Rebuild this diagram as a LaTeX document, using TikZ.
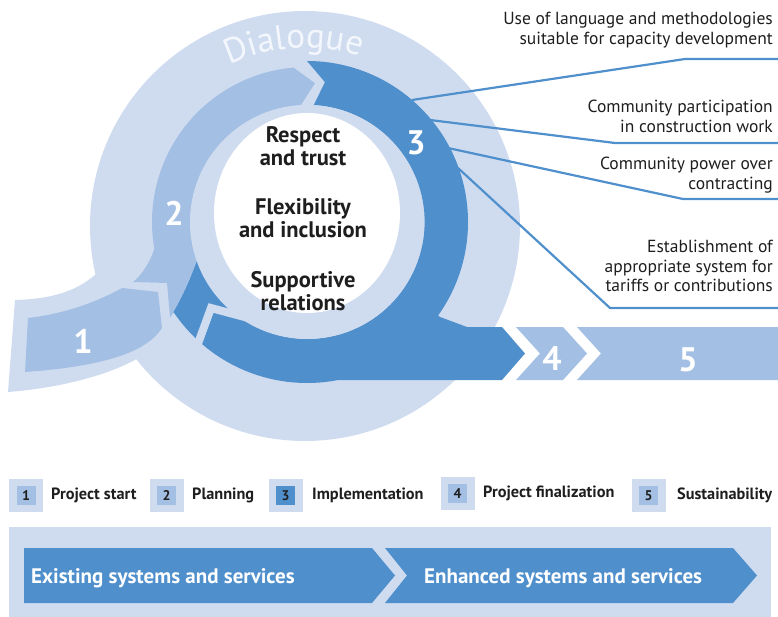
\documentclass[tikz,border=0pt]{standalone}
\usepackage{fontspec}
\setmainfont{PT Sans}
\usetikzlibrary{calc,decorations.text}
\definecolor{paleblue}{HTML}{CFDCF0}
\definecolor{midblue}{HTML}{A3BFE3}
\definecolor{deepblue}{HTML}{4F8FCC}
\definecolor{mist}{HTML}{F3F7FC}
\definecolor{ink}{HTML}{1E1E1E}

\begin{document}
\begin{tikzpicture}[x=1pt,y=1pt,
  digit/.style={text=white,font=\fontsize{34}{34}\selectfont\bfseries},
  core/.style={align=center,text=ink,font=\fontsize{22.5}{23}\selectfont\bfseries},
  note/.style={align=right,anchor=north east,text=ink,font=\fontsize{17.5}{19.5}\selectfont},
  callout/.style={deepblue,line width=2.2pt},
  keybox/.style={fill=paleblue,minimum width=34pt,minimum height=33pt},
  keychip/.style={minimum size=19pt,text=ink,font=\fontsize{14}{14}\selectfont\bfseries},
  keytext/.style={anchor=base west,text=ink,font=\fontsize{16.3}{16.3}\selectfont\bfseries},
  flowtext/.style={anchor=base west,text=white,font=\fontsize{21}{21}\selectfont\bfseries}]
\tikzstyle{every node}+=[inner sep=0pt]
\useasboundingbox (0,0) rectangle (778,-617);
\coordinate (C) at (307,-222);
\coordinate (D) at (305,-226);
\fill[paleblue] (D) circle (215);
\fill[paleblue] (15,-300) .. controls (50,-299) and (80,-292) .. (102,-268) -- (140,-357) .. controls (110,-375) and (60,-388) .. (8,-392) -- cycle;
\fill[deepblue] (C) ++(90:161) arc[start angle=90,end angle=-146,radius=161] -- (170,-317) .. controls (178,-305) and (188,-285) .. (197,-260) arc[start angle=-161,end angle=87,radius=117] -- ($(C)+(82.7:141)$) -- cycle;
\fill[deepblue] (320,-370) -- (338,-380) -- (502,-380) -- (525,-353.5) -- (502,-327) -- (467,-327) -- (440,-317) -- (420,-300) -- cycle;
\draw[paleblue,line width=8pt,miter limit=10] (192,-360) -- (211,-308) -- (252,-319);
\fill[midblue] (C) ++(95:155) arc[start angle=95,end angle=190,radius=155] .. controls (150,-262) and (142,-275) .. (133,-282) -- (167,-283) -- (170,-317) .. controls (178,-305) and (188,-285) .. (197,-260) arc[start angle=199,end angle=93.3,radius=117] -- ($(C)+(86.7:139)$) -- cycle;
\fill[midblue] (28,-318) .. controls (70,-313) and (100,-300) .. (122,-288) -- (158,-292) -- (162,-328) .. controls (148,-350) and (110,-366) .. (25,-372) -- cycle;
\fill[paleblue] (C) circle (117);
\fill[white] (307,-213) ellipse [x radius=93,y radius=100];
\fill[midblue] (516,-327) -- (563,-327) -- (587,-353.5) -- (563,-380) -- (516,-380) -- (540,-353.5) -- cycle;
\fill[midblue] (577,-327) -- (778,-327) -- (778,-380) -- (577,-380) -- (601,-353.5) -- cycle;
\path[decorate,decoration={text along path,text align=center,text color=mist,
  text={|\fontsize{35}{35}\selectfont|Dialogue}}] (D) ++(128.5:178) arc[start angle=128.5,end angle=58.5,radius=178];
\node[digit] (n1) at (83,-341) {1};
\node[digit] (n2) at (174,-213) {2};
\node[digit] (n3) at (416,-143) {3};
\node[digit] (n4) at (552,-359) {4};
\node[digit] (n5) at (688,-360) {5};
\node[core] (respect) at (303,-146) {Respect\\and trust};
\node[core] (flex) at (303,-218) {Flexibility\\and inclusion};
\node[core] (support) at (303,-291) {Supportive\\relations};
\node[note] (lang) at (773,-12) {Use of language and methodologies\\suitable for capacity development};
\node[note] (part) at (773,-100) {Community participation\\in construction work};
\node[note] (power) at (773,-157) {Community power over\\contracting};
\node[note] (tariff) at (773,-240) {Establishment of\\appropriate system for\\tariffs or contributions};
\coordinate (a0) at (412,-100); \coordinate (a1) at (685,-59); \coordinate (a2) at (778,-59);
\coordinate (b0) at (430,-120); \coordinate (b1) at (615,-143); \coordinate (b2) at (778,-143);
\coordinate (c0) at (448,-148); \coordinate (c1) at (683,-199); \coordinate (c2) at (778,-199);
\coordinate (d0) at (458,-168); \coordinate (d1) at (610,-308); \coordinate (d2) at (778,-308);
\draw[callout] (a0) -- (a1) -- (a2);
\draw[callout] (b0) -- (b1) -- (b2);
\draw[callout] (c0) -- (c1) -- (c2);
\draw[callout] (d0) -- (d1) -- (d2);
\node[keybox] (k1) at (26,-495.5) {};
\node[keychip,fill=midblue] (q1) at (k1) {1};
\node[keytext] (t1) at (51,-499) {Project start};
\node[keybox] (k2) at (166.5,-495.5) {};
\node[keychip,fill=midblue] (q2) at (k2) {2};
\node[keytext] (t2) at (192,-499) {Planning};
\node[keybox] (k3) at (285.5,-495.5) {};
\node[keychip,fill=deepblue] (q3) at (k3) {3};
\node[keytext] (t3) at (312,-499) {Implementation};
\node[keybox] (k4) at (457.5,-493.5) {};
\node[keychip,fill=midblue] (q4) at (k4) {4};
\node[keytext] (t4) at (483,-497) {Project finalization};
\node[keybox] (k5) at (648.5,-495.5) {};
\node[keychip,fill=midblue] (q5) at (k5) {5};
\node[keytext] (t5) at (677,-499) {Sustainability};
\fill[paleblue] (9,-527) rectangle (771,-617);
\fill[deepblue] (24,-548) -- (372,-548) -- (395,-575.5) -- (372,-603) -- (24,-603) -- cycle;
\fill[deepblue] (385,-548) -- (733,-548) -- (757,-575.5) -- (733,-603) -- (385,-603) -- (407,-575.5) -- cycle;
\node[flowtext] (old) at (31,-583) {Existing systems and services};
\node[flowtext] (new) at (424,-583) {Enhanced systems and services};
\end{tikzpicture}
\end{document}
